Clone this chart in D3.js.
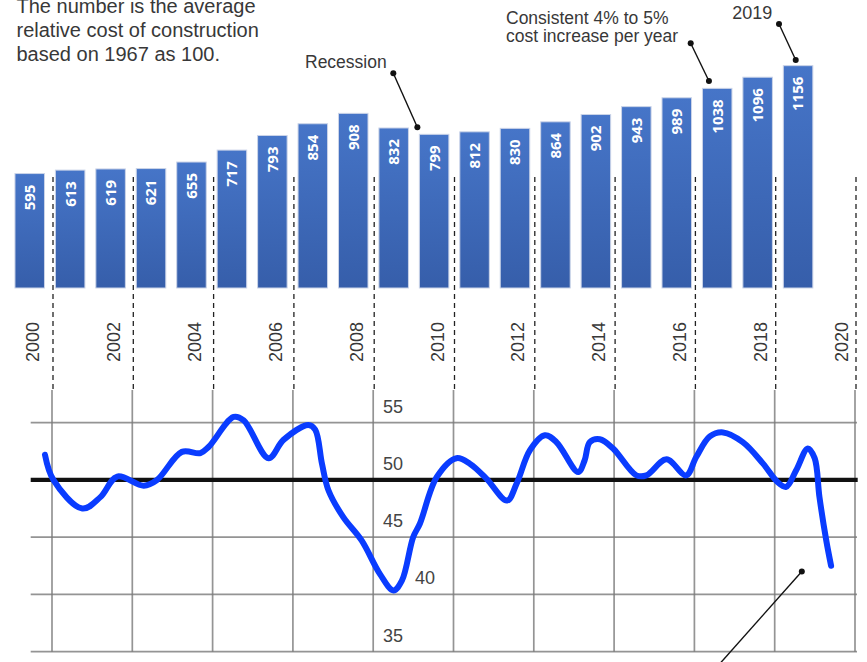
<!DOCTYPE html>
<html>
<head>
<meta charset="utf-8">
<title>Construction cost index</title>
<script src="https://d3js.org/d3.v7.min.js"></script>
<style>
body { margin: 0; background: #fff; }
svg text { font-family: "Liberation Sans", Arial, sans-serif; fill: #383838; }
.bar-label { font-family: "Open Sans", sans-serif; font-weight: bold; font-size: 15px; fill: #fff; }
.grid { stroke: #7a7a7a; stroke-width: 1.7; opacity: 0.8; }
.note line { stroke: #111; stroke-width: 1.4; }
.note circle { fill: #111; }
</style>
</head>
<body>
<svg width="867" height="662"></svg>
<script>

// bar chart: relative construction cost (1967 = 100)
var barYears = [2000, 2001, 2002, 2003, 2004, 2005, 2006, 2007, 2008, 2009,
                2010, 2011, 2012, 2013, 2014, 2015, 2016, 2017, 2018, 2019];
var costIndex = [595, 613, 619, 621, 655, 717, 793, 854, 908, 832,
                 799, 812, 830, 864, 902, 943, 989, 1038, 1096, 1156];

// x axis labels
var yearTicks = [2000, 2002, 2004, 2006, 2008, 2010, 2012, 2014, 2016, 2018, 2020];

// line chart: index readings, 50 = break-even
var gridValues = [55, 50, 45, 40, 35];
var lineYears = [1999.80, 2000.01, 2000.73, 2001.18, 2001.60, 2002.26, 2002.59, 2003.21, 2003.67, 2003.88,
                 2004.50, 2004.75, 2005.37, 2005.74, 2006.36, 2006.53, 2006.70, 2006.86, 2007.23, 2007.69,
                 2008.14, 2008.48, 2008.69, 2008.97, 2009.14, 2009.56, 2010.05, 2010.39, 2010.80, 2011.31,
                 2011.55, 2011.88, 2012.25, 2012.54, 2013.08, 2013.24, 2013.37, 2013.62, 2013.95, 2014.53,
                 2014.78, 2015.28, 2015.77, 2016.02, 2016.36, 2016.69, 2017.18, 2017.68, 2018.05, 2018.26,
                 2018.51, 2018.80, 2018.97, 2019.09, 2019.26, 2019.38];
var lineValues = [52.2, 50.0, 47.5, 48.5, 50.3, 49.5, 50.0, 52.45, 52.35, 52.9,
                  55.5, 55.2, 51.9, 53.5, 54.8, 54.4, 51.4, 49.1, 46.75, 44.7,
                  41.8, 40.35, 41.2, 45.0, 46.2, 50.26, 51.9, 51.4, 50.1, 48.2,
                  49.7, 52.6, 53.9, 53.3, 50.7, 51.7, 53.3, 53.55, 52.75, 50.4,
                  50.4, 51.8, 50.4, 52.0, 53.8, 54.15, 53.3, 51.45, 49.8, 49.4,
                  50.85, 52.75, 51.9, 48.5, 44.7, 42.5];

var introLines = ["The number is the average", "relative cost of construction", "based on 1967 as 100."];

var svg = d3.select("svg");

var x = d3.scaleBand().domain(barYears).range([9.5, 818.3])
    .paddingInner(0.27).paddingOuter(0.135);
var y = d3.scaleLinear().domain([0, 1200]).range([288, 57.2]);

var xYear = d3.scaleLinear().domain([2000, 2020]).range([53, 856]);
var yIdx = d3.scaleLinear().domain([35, 55]).range([651.7, 422.7]);

// labels sit on the bar centres, 2020 extrapolated
var labelX = d3.scaleLinear().domain([2000, 2019])
    .range([x(2000) + x.bandwidth() / 2, x(2019) + x.bandwidth() / 2]);

var grad = svg.append("defs").append("linearGradient")
    .attr("id", "barFill").attr("x1", 0).attr("y1", 0).attr("x2", 0).attr("y2", 1);
grad.append("stop").attr("offset", "0%").attr("stop-color", "#4675c8");
grad.append("stop").attr("offset", "100%").attr("stop-color", "#365eaa");

// intro text
svg.append("text")
    .attr("x", 16.5).attr("y", 12.7)
    .style("font-size", "20px")
  .selectAll("tspan")
  .data(introLines)
  .enter().append("tspan")
    .attr("x", 16.5)
    .attr("dy", function(d, i) { return i ? 24 : 0; })
    .text(function(d) { return d; });

// dashed year separators
svg.append("g").selectAll("line")
  .data(yearTicks)
  .enter().append("line")
    .attr("x1", function(d) { return xYear(d); })
    .attr("x2", function(d) { return xYear(d); })
    .attr("y1", 177).attr("y2", 390)
    .attr("stroke", "#222").attr("stroke-width", 1.3)
    .attr("stroke-dasharray", "5,4");

// bars
svg.append("g").selectAll("rect")
  .data(barYears)
  .enter().append("rect")
    .attr("x", function(d) { return x(d); })
    .attr("y", function(d, i) { return y(costIndex[i]); })
    .attr("width", x.bandwidth())
    .attr("height", function(d, i) { return y(0) - y(costIndex[i]); })
    .attr("fill", "url(#barFill)")
    .attr("stroke", "#cbd4e8").attr("stroke-width", 1);

svg.append("g").selectAll("text")
  .data(barYears)
  .enter().append("text")
    .attr("class", "bar-label")
    .attr("text-anchor", "end")
    .attr("dy", "0.36em")
    .attr("transform", function(d, i) {
      return "translate(" + (x(d) + x.bandwidth() / 2) + "," + (y(costIndex[i]) + 11) + ") rotate(-90)";
    })
    .text(function(d, i) { return costIndex[i]; });

// year labels
svg.append("g").selectAll("text")
  .data(yearTicks)
  .enter().append("text")
    .attr("dy", "0.36em")
    .style("font-size", "18px")
    .attr("transform", function(d) { return "translate(" + (labelX(d) + 3) + ",362) rotate(-90)"; })
    .text(function(d) { return d; });

// line chart grid
var grid = svg.append("g");
grid.selectAll(".v")
  .data(yearTicks)
  .enter().append("line")
    .attr("class", "grid")
    .attr("x1", function(d) { return xYear(d) - 1; })
    .attr("x2", function(d) { return xYear(d) - 1; })
    .attr("y1", 390).attr("y2", yIdx(35));
grid.selectAll(".h")
  .data(gridValues.filter(function(v) { return v !== 50; }))
  .enter().append("line")
    .attr("class", "grid")
    .attr("x1", 30.7).attr("x2", 857)
    .attr("y1", function(d) { return yIdx(d); })
    .attr("y2", function(d) { return yIdx(d); });

grid.selectAll("text")
  .data(gridValues)
  .enter().append("text")
    .attr("x", function(d) { return d === 40 ? 415 : 383; })
    .attr("y", function(d) { return yIdx(d) - 10; })
    .style("font-size", "18px")
    .style("fill", "#444")
    .text(function(d) { return d; });

// 50 reference line
svg.append("line")
    .attr("x1", 30.7).attr("x2", 857.7)
    .attr("y1", yIdx(50)).attr("y2", yIdx(50))
    .attr("stroke", "#111").attr("stroke-width", 4.3);

var line = d3.line()
    .x(function(d) { return xYear(d); })
    .y(function(d, i) { return yIdx(lineValues[i]); })
    .curve(d3.curveCatmullRom.alpha(0.5));

svg.append("path")
    .datum(lineYears)
    .attr("d", line)
    .attr("fill", "none")
    .attr("stroke", "#0a3cff")
    .attr("stroke-width", 6)
    .attr("stroke-linecap", "round")
    .attr("stroke-linejoin", "round");

// annotations
function note(x1, y1, x2, y2, dot1, dot2) {
  var g = svg.append("g").attr("class", "note");
  g.append("line").attr("x1", x1).attr("y1", y1).attr("x2", x2).attr("y2", y2);
  if (dot1) g.append("circle").attr("cx", x1).attr("cy", y1).attr("r", 3);
  if (dot2) g.append("circle").attr("cx", x2).attr("cy", y2).attr("r", 3);
}

note(393.3, 73.3, x(2010) - 2, y(799) - 7, true, true);
note(690.7, 43.3, x(2017) + 6.5, y(1038) - 7.4, true, true);
note(779, 24, x(2019) + 12.4, y(1156) - 5.7, true, true);
note(xYear(2018.65), yIdx(42), 716, 668, true, false);

svg.append("text").attr("x", 305).attr("y", 67.7)
    .style("font-size", "17.5px").text("Recession");

svg.append("text").attr("x", 506).attr("y", 23.5)
    .style("font-size", "17.5px")
  .selectAll("tspan")
  .data(["Consistent 4% to 5%", "cost increase per year"])
  .enter().append("tspan")
    .attr("x", 506)
    .attr("dy", function(d, i) { return i ? 18.2 : 0; })
    .text(function(d) { return d; });

svg.append("text").attr("x", 732.3).attr("y", 19.3)
    .style("font-size", "18px").text("2019");

</script>
</body>
</html>
